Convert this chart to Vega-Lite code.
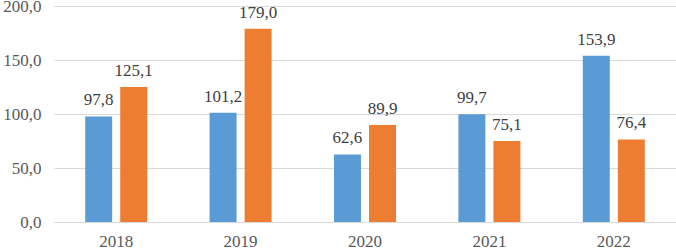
{
  "$schema": "https://vega.github.io/schema/vega-lite/v6.json",
  "autosize": {"type": "none"},
  "width": 622,
  "height": 216,
  "padding": {"left": 54, "top": 6, "right": 0, "bottom": 27},
  "background": "white",
  "config": {
    "locale": {"number": {"decimal": ",", "thousands": " ", "grouping": [3], "currency": ["", ""]}},
    "font": "Times New Roman, Liberation Serif, serif",
    "view": {"stroke": null}
  },
  "data": {
    "values": [
      {"year": "2018", "series": "A", "value": 97.8},
      {"year": "2018", "series": "B", "value": 125.1},
      {"year": "2019", "series": "A", "value": 101.2},
      {"year": "2019", "series": "B", "value": 179.0},
      {"year": "2020", "series": "A", "value": 62.6},
      {"year": "2020", "series": "B", "value": 89.9},
      {"year": "2021", "series": "A", "value": 99.7},
      {"year": "2021", "series": "B", "value": 75.1},
      {"year": "2022", "series": "A", "value": 153.9},
      {"year": "2022", "series": "B", "value": 76.4}
    ]
  },
  "encoding": {
    "x": {
      "field": "year", "type": "nominal",
      "scale": {"paddingInner": 0, "paddingOuter": 0},
      "axis": {"title": null, "labelAngle": 0, "ticks": false, "domain": false, "labelFontSize": 17, "labelColor": "#595959", "labelPadding": 11, "labelFont": "Times New Roman, Liberation Serif, serif"}
    },
    "xOffset": {"field": "series", "type": "nominal", "scale": {"paddingInner": 0.23, "paddingOuter": 0.89}},
    "y": {
      "field": "value", "type": "quantitative",
      "scale": {"domain": [0, 200]},
      "axis": {"title": null, "values": [0, 50, 100, 150, 200], "format": ".1f", "ticks": false, "domain": false, "labelFontSize": 17, "labelColor": "#595959", "labelPadding": 13, "gridColor": "#d9d9d9", "gridWidth": 1, "labelFont": "Times New Roman, Liberation Serif, serif"}
    }
  },
  "layer": [
    {
      "mark": {"type": "bar"},
      "encoding": {
        "color": {"field": "series", "type": "nominal", "scale": {"domain": ["A", "B"], "range": ["#5B9BD5", "#ED7D31"]}, "legend": null}
      }
    },
    {
      "mark": {"type": "text", "baseline": "bottom", "dy": -7, "fontSize": 17, "color": "#404040", "font": "Times New Roman, Liberation Serif, serif"},
      "encoding": {
        "text": {"field": "value", "type": "quantitative", "format": ".1f"}
      }
    }
  ]
}
